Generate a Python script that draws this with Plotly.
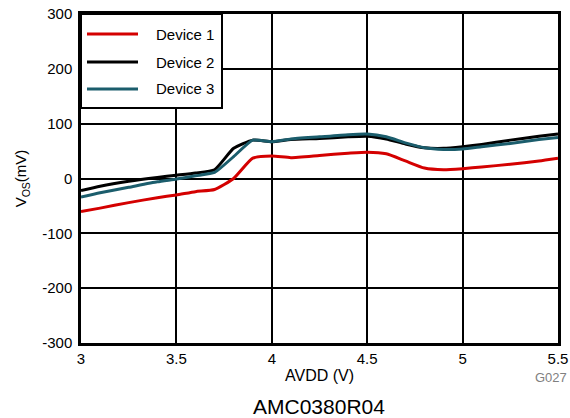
import plotly.graph_objects as go

avdd = [3.0, 3.1, 3.25, 3.4, 3.5, 3.6, 3.7, 3.8, 3.9, 4.0, 4.1, 4.25, 4.4, 4.5, 4.6, 4.7, 4.8, 4.9, 5.0, 5.1, 5.25, 5.4, 5.5]
device1 = [-60, -54, -44, -35, -30, -24, -20, 0, 37, 41, 38, 42, 46, 48, 45, 32, 19, 16, 18, 21, 26, 32, 37]
device2 = [-22, -14, -5, 2, 6, 10, 16, 55, 70, 67, 71, 73, 76, 77, 72, 63, 56, 55, 58, 62, 70, 77, 81]
device3 = [-34, -26, -16, -6, -1, 5, 11, 40, 70, 67, 72, 76, 80, 81, 76, 65, 56, 53, 54, 58, 64, 71, 75]

names = ["Device 1", "Device 2", "Device 3"]
colors = ["#d40000", "#000000", "#1b5d6c"]
series = [device1, device2, device3]

x_ticks = [3, 3.5, 4, 4.5, 5, 5.5]
x_ticktext = ["3", "3.5", "4", "4.5", "5", "5.5"]
y_ticks = [300, 200, 100, 0, -100, -200, -300]
y_ticktext = ["300", "200", "100", "0", "-100", "-200", "-300"]

FONT = "Liberation Sans, Arial, sans-serif"

fig = go.Figure()
for n, c, s in zip(names, colors, series):
    fig.add_trace(go.Scatter(x=avdd, y=s, mode="lines", name=n,
                             line=dict(color=c, width=3, shape="spline", smoothing=0.5),
                             showlegend=False))

W, H = 570, 418
L, R, T, B = 81, 12, 14, 75
pw, ph = W - L - R, H - T - B

def px(xp):
    return (xp - L) / pw

def py(yp):
    return (H - B - yp) / ph

shapes = [dict(type="rect", xref="paper", yref="paper", x0=0, x1=px(222), y0=py(108), y1=1,
               fillcolor="white", line=dict(color="black", width=2), layer="above")]
annotations = []
rows = [34, 62, 89]
for n, c, r in zip(names, colors, rows):
    shapes.append(dict(type="line", xref="paper", yref="paper", x0=px(87), x1=px(138),
                       y0=py(r), y1=py(r), line=dict(color=c, width=3), layer="above"))
    annotations.append(dict(xref="paper", yref="paper", x=px(154), y=py(r), text=n,
                            showarrow=False, xanchor="left", yanchor="middle",
                            font=dict(family=FONT, size=15, color="black")))

annotations.append(dict(xref="paper", yref="paper", x=px(569), y=py(377), text="G027",
                        showarrow=False, xanchor="right", yanchor="middle",
                        font=dict(family=FONT, size=13, color="#808080")))
annotations.append(dict(xref="paper", yref="paper", x=px(319), y=py(406), text="AMC0380R04",
                        showarrow=False, xanchor="center", yanchor="middle",
                        font=dict(family=FONT, size=21, color="black")))

fig.update_layout(
    width=W, height=H, autosize=False,
    margin=dict(l=L, r=R, t=T, b=B, pad=0),
    paper_bgcolor="white", plot_bgcolor="white",
    font=dict(family=FONT, size=15, color="black"),
    shapes=shapes, annotations=annotations,
    xaxis=dict(range=[3, 5.5], tickvals=x_ticks, ticktext=x_ticktext, automargin=False,
               showgrid=True, gridcolor="black", gridwidth=2,
               showline=True, linecolor="black", linewidth=2.5, mirror=True,
               zeroline=False, ticks="", tickfont=dict(size=15),
               title=dict(text="AVDD (V)", font=dict(size=16), standoff=5)),
    yaxis=dict(range=[-300, 300], tickvals=y_ticks, ticktext=y_ticktext, automargin=False,
               showgrid=True, gridcolor="black", gridwidth=2,
               showline=True, linecolor="black", linewidth=2.5, mirror=True,
               zeroline=False, ticks="", tickfont=dict(size=15), ticklabelstandoff=3,
               title=dict(text="V<sub>OS</sub>(mV)", font=dict(size=15), standoff=12)),
)

fig.write_html("out.html", config={"responsive": False, "displayModeBar": False},
               post_script="document.body.style.margin='0px';document.body.style.padding='0px';")
